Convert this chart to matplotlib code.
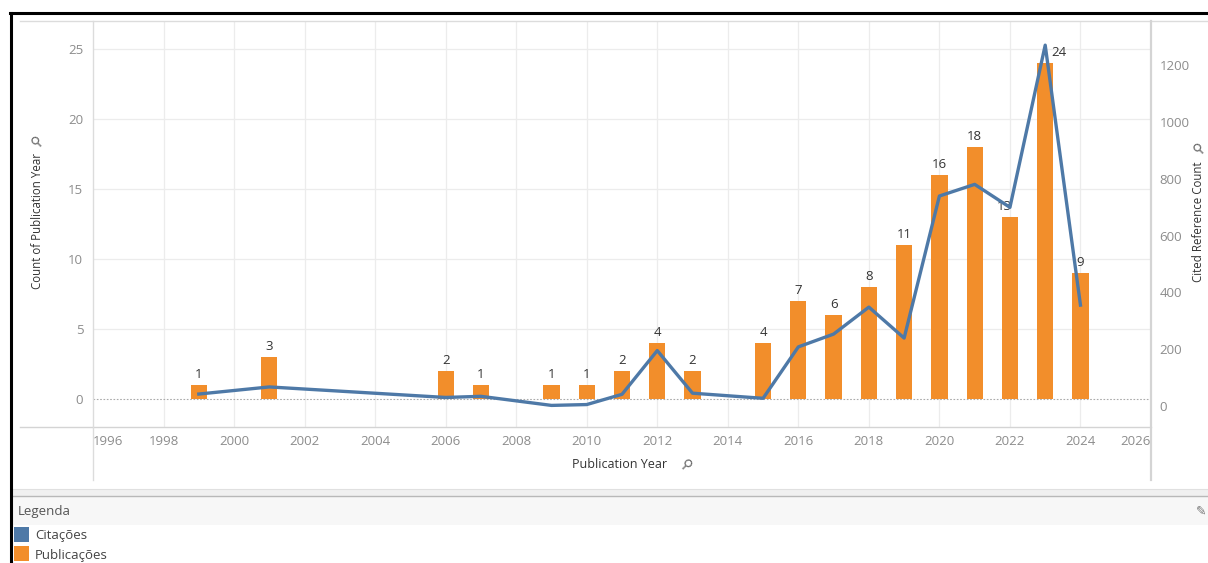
import matplotlib.pyplot as plt
import matplotlib.lines as mlines
import matplotlib.patches as mpatches

plt.rcParams['font.family'] = ['Open Sans', 'DejaVu Sans']

# data
years = [1999, 2001, 2006, 2007, 2009, 2010, 2011, 2012, 2013, 2015,
         2016, 2017, 2018, 2019, 2020, 2021, 2022, 2023, 2024]
publicacoes = [1, 3, 2, 1, 1, 1, 2, 4, 2, 4, 7, 6, 8, 11, 16, 18, 13, 24, 9]
citacoes = [42, 67, 30, 34, 2, 5, 41, 195, 45, 27,
            208, 253, 348, 239, 739, 780, 699, 1270, 355]
x_ticks = list(range(1996, 2027, 2))
left_ticks = [0, 5, 10, 15, 20, 25]
right_ticks = [0, 200, 400, 600, 800, 1000, 1200]

ORANGE = '#F28E2B'
BLUE = '#4E79A7'
TICK = '#8c8c8c'
LABEL = '#333333'
W, H = 1208, 563


def fx(px):
    return px / W


def fy(py):
    return 1 - py / H


fig = plt.figure(figsize=(W / 100, H / 100), dpi=100)
ax = fig.add_axes([fx(93), fy(427), fx(1151 - 93), (427 - 21) / H])
ax2 = ax.twinx()

ax.set_xlim(1996, 2026)
ax.set_ylim(-2.0, 27.0)
ax2.set_ylim(-74, 1355)

ax.bar(years, publicacoes, width=0.46, color=ORANGE, zorder=2)
ax2.plot(years, citacoes, color=BLUE, lw=2.4, solid_joinstyle='round', zorder=3)

# bar labels
for yr, v in zip(years, publicacoes):
    dx = 0
    if yr == 2023:
        dx = 10
    elif yr == 2022:
        dx = -4
    ax.annotate(str(v), (yr, v), xytext=(dx, 3), textcoords='offset points',
                ha='center', va='bottom', fontsize=9.5, color=LABEL, zorder=4)

# grid
for t in left_ticks[1:]:
    ax.axhline(t, color='#ececec', lw=0.9, zorder=0)
for t in x_ticks[1:-1]:
    ax.axvline(t, color='#ececec', lw=0.9, zorder=0)
ax.axhline(0, color='#aaaaaa', lw=0.8, ls=(0, (1.5, 1.5)), zorder=1)

for a in (ax, ax2):
    for s in a.spines.values():
        s.set_visible(False)

ax.set_xticks(x_ticks)
ax.set_xticklabels([str(t) for t in x_ticks])
ax.set_yticks(left_ticks)
ax2.set_yticks(right_ticks)
ax.tick_params(axis='x', length=0, pad=6, labelsize=9.5, labelcolor=TICK)
ax.tick_params(axis='y', length=0, pad=7, labelsize=9.5, labelcolor=TICK)
ax2.tick_params(axis='y', length=0, pad=6, labelsize=9.5, labelcolor=TICK)
xl = ax.get_xticklabels()
xl[0].set_ha('left')
xl[-1].set_ha('right')

# axis titles with pin icons
fig.text(fx(620), fy(465), 'Publication Year', ha='center', va='center',
         fontsize=9, color=LABEL)
fig.text(fx(686), fy(465), '⚲', ha='center', va='center', fontsize=10,
         color='#666666', rotation=-45, family='DejaVu Sans')
fig.text(fx(38), fy(221), 'Count of Publication Year', ha='center', va='center',
         fontsize=8.3, color=LABEL, rotation=90)
fig.text(fx(37), fy(141), '⚲', ha='center', va='center', fontsize=10,
         color='#666666', rotation=45, family='DejaVu Sans')
fig.text(fx(1199), fy(222), 'Cited Reference Count', ha='center', va='center',
         fontsize=8.3, color=LABEL, rotation=90)
fig.text(fx(1199), fy(148), '⚲', ha='center', va='center', fontsize=10,
         color='#666666', rotation=45, family='DejaVu Sans')

# frame lines of the pane
def hline(y, x0, x1, color, lw):
    fig.add_artist(mlines.Line2D([fx(x0), fx(x1)], [fy(y), fy(y)],
                                 color=color, lw=lw, transform=fig.transFigure))


def vline(x, y0, y1, color, lw):
    fig.add_artist(mlines.Line2D([fx(x), fx(x)], [fy(y0), fy(y1)],
                                 color=color, lw=lw, transform=fig.transFigure))


hline(21, 20, W, '#dcdcdc', 1.0)
hline(427, 20, 1151, '#d4d4d4', 1.0)
vline(93, 21, 480, '#dcdcdc', 1.0)
vline(1151, 21, 480, '#d4d4d4', 1.6)

# legend panel
fig.add_artist(mpatches.Rectangle((fx(12), fy(496)), fx(W), (496 - 489) / H,
                                  transform=fig.transFigure, facecolor='#f0f0f0',
                                  edgecolor='none'))
hline(489, 12, W, '#e0e0e0', 0.8)
hline(496, 12, W, '#b8b8b8', 1.0)
fig.add_artist(mpatches.Rectangle((fx(12), fy(525)), fx(W), (525 - 497) / H,
                                  transform=fig.transFigure, facecolor='#f7f7f7',
                                  edgecolor='none'))
fig.text(fx(18), fy(511), 'Legenda', ha='left', va='center', fontsize=9.5, color='#555555')
fig.text(fx(1201), fy(511), '✎', ha='center', va='center', fontsize=9,
         color='#777777', family='DejaVu Sans')
for name, col, yc in [('Citações', BLUE, 535), ('Publicações', ORANGE, 554)]:
    fig.add_artist(mpatches.Rectangle((fx(14), fy(yc + 7)), fx(15), 15 / H,
                                      transform=fig.transFigure, facecolor=col,
                                      edgecolor='none'))
    fig.text(fx(35), fy(yc + 1), name, ha='left', va='center', fontsize=9.5, color='#444444')

# black outer border (top and left)
hline(13, 10, W, 'black', 2.2)
vline(11, 13, H, 'black', 2.2)

fig.savefig('out.png', dpi=100)
